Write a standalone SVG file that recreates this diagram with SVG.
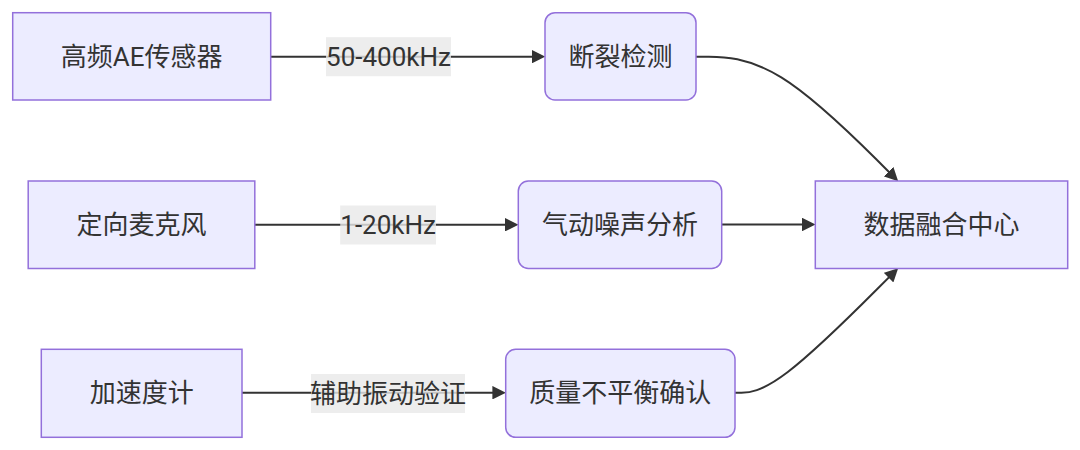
<svg xmlns="http://www.w3.org/2000/svg" width="1080" height="450" viewBox="0 0 1080 450">
  <style>
    .node rect { fill: #ECECFF; stroke: #9370DB; stroke-width: 1.5; }
    .node text, .elabel text { font-family: Roboto, "Noto Sans CJK SC", sans-serif; font-size: 26px; fill: #333333; text-anchor: middle; dominant-baseline: central; }
    .edge { fill: none; stroke: #333333; stroke-width: 2; marker-end: url(#arrow); }
    .elabel rect { fill: rgba(232,232,232,0.8); }
  </style>
  <defs>
    <marker id="arrow" viewBox="0 0 10 10" refX="6.9" refY="5" markerWidth="13.5" markerHeight="13.5" markerUnits="userSpaceOnUse" orient="auto">
      <path d="M0,0 L10,5 L0,10 z" fill="#333333"/>
    </marker>
  </defs>

  <g id="connectors">
    <path class="edge" d="M270.7,56.7 L541,56.7"/>
    <path class="edge" d="M254.8,224.7 L514.3,224.7"/>
    <path class="edge" d="M721.7,224.5 L811.3,224.5"/>
    <path class="edge" d="M242,392.7 L501.7,392.7"/>
    <path class="edge" d="M696,56.7 L708.9,56.7 C721.8,56.7 747.7,56.7 781.3,77.4 C815,98.1 856.5,139.6 877.25,160.3 L895.2,178.2"/>
    <path class="edge" d="M735,392.7 L741.4,392.7 C747.8,392.7 760.7,392.7 787.8,372 C815,351.2 856.5,309.8 877.25,289 L895.2,271.1"/>
    <g class="elabel" id="label-ab">
      <rect x="326" y="37.2" width="125" height="39"/>
      <text x="388.5" y="56.7">50-400kHz</text>
    </g>
    <g class="elabel" id="label-cd">
      <rect x="340.2" y="205.5" width="95.8" height="39"/>
      <text x="388.1" y="225">1-20kHz</text>
    </g>
    <g class="elabel" id="label-fg">
      <rect x="311" y="374" width="154" height="39"/>
      <text x="388" y="393.5">辅助振动验证</text>
    </g>
  </g>

  <g id="node-ae" class="node">
    <rect x="12.7" y="12.7" width="258" height="87.3"/>
    <text x="141.7" y="56.5">高频AE传感器</text>
  </g>
  <g id="node-break" class="node">
    <rect x="545" y="12.7" width="151" height="87.3" rx="10" ry="10"/>
    <text x="620.5" y="56.5">断裂检测</text>
  </g>
  <g id="node-mic" class="node">
    <rect x="28.2" y="181" width="226.6" height="87.5"/>
    <text x="141.5" y="225">定向麦克风</text>
  </g>
  <g id="node-noise" class="node">
    <rect x="518.3" y="181" width="203.4" height="87.5" rx="10" ry="10"/>
    <text x="620" y="225">气动噪声分析</text>
  </g>
  <g id="node-fusion" class="node">
    <rect x="815.3" y="181" width="252.4" height="87.5"/>
    <text x="941.5" y="224.7">数据融合中心</text>
  </g>
  <g id="node-acc" class="node">
    <rect x="41.3" y="349.3" width="200.7" height="88"/>
    <text x="141.7" y="393.3">加速度计</text>
  </g>
  <g id="node-imbalance" class="node">
    <rect x="505.7" y="349.3" width="229.3" height="88" rx="10" ry="10"/>
    <text x="620.3" y="393.3">质量不平衡确认</text>
  </g>
</svg>
